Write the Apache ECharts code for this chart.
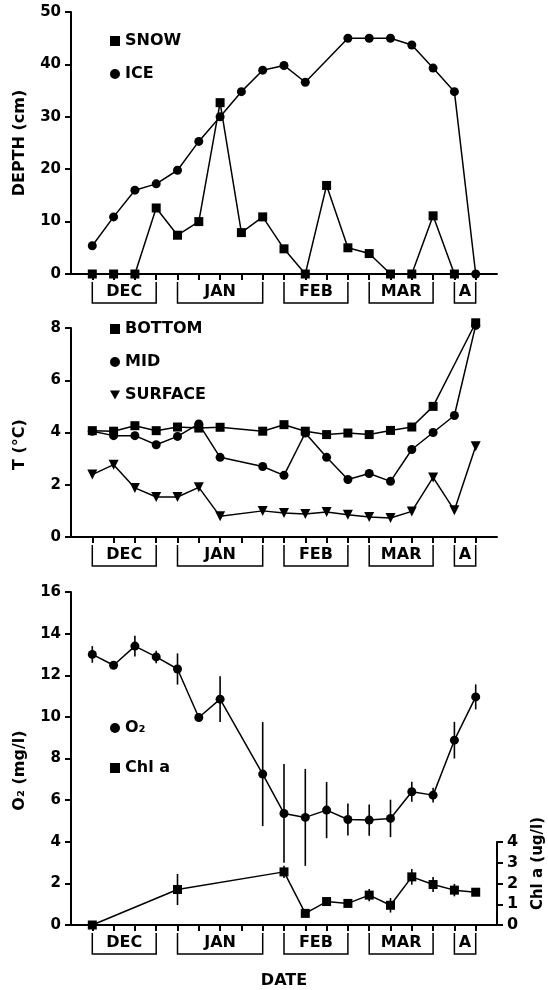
<!DOCTYPE html>
<html>
<head>
<meta charset="utf-8">
<script src="https://cdn.jsdelivr.net/npm/echarts@6/dist/echarts.min.js"></script>
<style>
html,body{margin:0;padding:0;background:#fff;}
#chart{width:548px;height:990px;}
</style>
</head>
<body>
<div id="chart"></div>
<script>
// sampling positions (one per sampling date)
const sample = [0,1,2,3,4,5,6,7,8,9,10,11,12,13,14,15,16,17,18];
// month brackets
const months = ['DEC','JAN','FEB','MAR','A'];
const monthStart = [0,4,9,13,17];
const monthEnd = [3,8,12,16,18];

// Panel 1: depth (cm)
const snow = [0,0,0,12.6,7.4,10.0,32.7,7.9,10.9,4.8,0,16.9,5.0,3.9,0,0,11.1,0,null];
const ice = [5.4,10.9,16.0,17.2,19.8,25.3,30.0,34.8,38.9,39.8,36.6,null,45.0,45.0,45.0,43.7,39.3,34.8,0];

// Panel 2: temperature (°C)
const bottom = [4.07,4.05,4.26,4.07,4.21,4.17,4.20,null,4.05,4.30,4.05,3.92,3.98,3.92,4.08,4.21,5.0,null,8.2];
const mid = [4.05,3.88,3.88,3.53,3.85,4.33,3.05,null,2.70,2.36,3.98,3.05,2.20,2.43,2.13,3.35,4.00,4.65,8.1];
const surface = [2.39,2.77,1.88,1.53,1.53,1.90,0.79,null,1.00,0.92,0.88,0.96,0.85,0.77,0.73,0.98,2.28,1.02,3.47];

// Panel 3: O2 (mg/l) and Chl a (ug/l), with error half-widths
const o2 = [13.0,12.48,13.4,12.88,12.3,9.97,10.85,null,7.25,5.36,5.17,5.52,5.07,5.04,5.12,6.4,6.24,8.88,10.96];
const o2Err = [0.4,0,0.5,0.3,0.75,0,1.1,0,2.5,2.37,2.33,1.35,0.77,0.75,0.9,0.48,0.35,0.88,0.6];
const chl = [0,null,null,null,1.71,null,null,null,null,2.56,0.56,1.13,1.04,1.44,0.95,2.32,1.95,1.68,1.58];
const chlErr = [0,0,0,0,0.75,0,0,0,0,0.3,0,0,0,0.3,0.35,0.38,0.36,0.3,0.15];

const FONT = '"DejaVu Sans", sans-serif';
const BLACK = '#000';

function pairs(arr){ return sample.map((x,i)=> arr[i]==null ? [x,'-'] : [x, arr[i]]); }
function errData(vals, errs){
  const out = [];
  sample.forEach((x,i)=>{ if(vals[i]!=null && errs[i]>0) out.push([x, vals[i]-errs[i], vals[i]+errs[i]]); });
  return out;
}

const LEFT = 71, RIGHT = 51;
const grids = [
  {left:LEFT, right:RIGHT, top:12, height:262, outerBoundsMode:'none', containLabel:false},
  {left:LEFT, right:RIGHT, top:328, height:209, outerBoundsMode:'none', containLabel:false},
  {left:LEFT, right:RIGHT, top:592, height:333, outerBoundsMode:'none', containLabel:false},
  {left:LEFT, right:RIGHT, top:842, height:83, outerBoundsMode:'none', containLabel:false}
];

function xAxis(gi, show, extra){
  return Object.assign({
    type:'value', gridIndex:gi, min:-1, max:19, interval:1, show:show,
    axisLine:{show:true, onZero:false, lineStyle:{color:BLACK, width:2}},
    axisTick:{show:true, inside:false, length:6, lineStyle:{color:BLACK,width:2}, customValues:sample},
    axisLabel:{show:false}, splitLine:{show:false}
  }, extra||{});
}
function yAxis(gi, max, interval, name, extra){
  return Object.assign({
    type:'value', gridIndex:gi, min:0, max:max, interval:interval,
    name:name, nameLocation:'middle', nameRotate:90, nameGap:43,
    nameTextStyle:{color:BLACK, fontFamily:FONT, fontWeight:'bold', fontSize:16},
    axisLine:{show:true, onZero:false, lineStyle:{color:BLACK, width:2}},
    axisTick:{show:true, inside:false, length:6, lineStyle:{color:BLACK,width:2}},
    axisLabel:{color:BLACK, fontFamily:FONT, fontWeight:'bold', fontSize:15, margin:10},
    splitLine:{show:false}
  }, extra||{});
}

function lineSeries(name, arr, gi, symbol, extra){
  return Object.assign({
    name:name, type:'line', xAxisIndex:gi, yAxisIndex:gi, data:pairs(arr),
    connectNulls:true, clip:false, symbol:symbol, symbolSize:9,
    lineStyle:{color:BLACK, width:1.5}, itemStyle:{color:BLACK},
    emphasis:{disabled:true}, animation:false, z:3
  }, extra||{});
}
function errSeries(vals, errs, gi){
  return {
    type:'custom', xAxisIndex:gi, yAxisIndex:gi, data:errData(vals, errs),
    encode:{x:0, y:[1,2]}, clip:false, silent:true, animation:false, z:2,
    renderItem:function(params, api){
      const a = api.coord([api.value(0), api.value(1)]);
      const b = api.coord([api.value(0), api.value(2)]);
      return {type:'line', shape:{x1:a[0],y1:a[1],x2:b[0],y2:b[1]}, style:{stroke:BLACK, lineWidth:1.6}};
    }
  };
}
function bracketSeries(gi){
  return {
    type:'custom', xAxisIndex:gi, yAxisIndex:gi,
    data: months.map((m,i)=>[monthStart[i], monthEnd[i], i]),
    encode:{x:[0,1]}, clip:false, silent:true, animation:false,
    renderItem:function(params, api){
      const s = api.coord([api.value(0), 0]);
      const e = api.coord([api.value(1), 0]);
      const y0 = s[1];
      return {type:'group', children:[
        {type:'polyline', shape:{points:[[s[0],y0+8],[s[0],y0+29],[e[0],y0+29],[e[0],y0+8]]},
          style:{stroke:BLACK, lineWidth:1.5, fill:null}},
        {type:'text', style:{x:(s[0]+e[0])/2, y:y0+18, text:months[params.dataIndex],
          align:'center', verticalAlign:'middle', fontFamily:FONT, fontWeight:'bold', fontSize:16, fill:BLACK}}
      ]};
    }
  };
}
function legend(top, items, gap){
  return {
    orient:'vertical', left:105, top:top, itemWidth:10, itemHeight:10, itemGap:gap,
    selectedMode:false, data:items,
    textStyle:{color:BLACK, fontFamily:FONT, fontWeight:'bold', fontSize:16, lineHeight:18}
  };
}

const option = {
  backgroundColor:'#fff',
  animation:false,
  grid: grids,
  xAxis:[
    xAxis(0,true), xAxis(1,true),
    xAxis(2,true,{name:'DATE', nameLocation:'middle', nameGap:48,
      nameTextStyle:{color:BLACK, fontFamily:FONT, fontWeight:'bold', fontSize:16}}),
    xAxis(3,false)
  ],
  yAxis:[
    yAxis(0,50,10,'DEPTH (cm)'),
    yAxis(1,8,2,'T (°C)', {nameTextStyle:{color:BLACK, fontFamily:FONT, fontWeight:'bold', fontSize:16, padding:[0,24,0,0]}}),
    yAxis(2,16,2,'O₂ (mg/l)', {nameTextStyle:{color:BLACK, fontFamily:FONT, fontWeight:'bold', fontSize:16, padding:[0,24,0,0]}}),
    yAxis(3,4,1,'Chl a (ug/l)', {position:'right', nameGap:34,
      axisLabel:{color:BLACK, fontFamily:FONT, fontWeight:'bold', fontSize:16, margin:10},
      nameTextStyle:{color:BLACK, fontFamily:FONT, fontWeight:'bold', fontSize:15, padding:[0,0,0,40]}})
  ],
  legend:[
    legend(27, [{name:'SNOW', icon:'rect'},{name:'ICE', icon:'circle'}], 15),
    legend(315, [{name:'BOTTOM', icon:'rect'},{name:'MID', icon:'circle'},{name:'SURFACE', icon:'path://M0,0L10,0L5,9Z'}], 15),
    legend(714, [{name:'O₂', icon:'circle'},{name:'Chl a', icon:'rect'}], 22)
  ],
  series:[
    lineSeries('SNOW', snow, 0, 'rect'),
    lineSeries('ICE', ice, 0, 'circle'),
    bracketSeries(0),
    lineSeries('BOTTOM', bottom, 1, 'rect'),
    lineSeries('MID', mid, 1, 'circle'),
    lineSeries('SURFACE', surface, 1, 'triangle', {symbolRotate:180, symbolSize:10}),
    bracketSeries(1),
    errSeries(o2, o2Err, 2),
    lineSeries('O₂', o2, 2, 'circle'),
    errSeries(chl, chlErr, 3),
    lineSeries('Chl a', chl, 3, 'rect'),
    bracketSeries(2)
  ]
};

const chart = echarts.init(document.getElementById('chart'), null, {renderer:'canvas'});
chart.setOption(option);
</script>
</body>
</html>
